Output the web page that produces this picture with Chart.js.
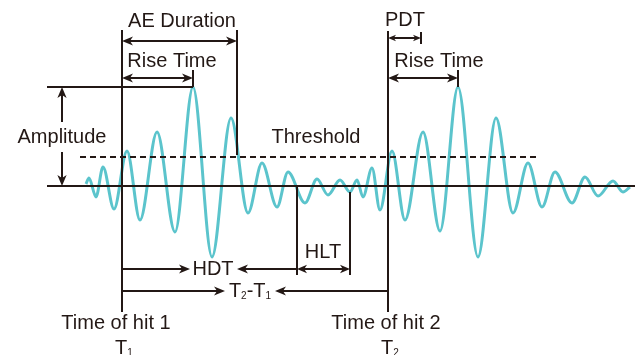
<!DOCTYPE html>
<html>
<head>
<meta charset="utf-8">
<script src="https://cdn.jsdelivr.net/npm/chart.js@4.4.1/dist/chart.umd.min.js"></script>
<style>
  html, body { margin: 0; padding: 0; background: #fff; }
  #wrap { width: 637px; height: 355px; position: relative; }
</style>
</head>
<body>
<div id="wrap"><canvas id="grafico"></canvas></div>
<script>
// Extremos da onda (tempo, amplitude)
const tempos = [86, 89, 96, 103, 114, 127, 140, 157, 175, 193, 212, 231, 248, 262, 277, 288, 305, 317, 328, 340,
  350, 357, 363, 372, 380, 392, 405, 423, 440, 458, 478, 496, 513, 528, 542, 555, 572, 585, 598, 613, 623, 630];
const amplitudes = [2, 8, -11, 19, -23, 35, -34, 54, -46, 99, -71, 68, -27, 23, -21, 14, -17, 7, -9, 6,
  -6, 6, -11, 18, -24, 35, -34, 54, -45, 99, -71, 68, -27, 23, -21, 14, -17, 9, -10, 5, -6, -1];

// Instantes marcados no eixo do tempo
const tHit1 = 122, tHit2 = 388;
const tPico1 = 193, tPico2 = 458;
const tFimDuracao = 237, tFimPDT = 421, tFimHDT = 297, tFimHLT = 350;

// Níveis de amplitude
const nivelBase = 0, nivelLimiar = 29, nivelPico = 99;

const COR = '#231815';
const COR_ONDA = '#5bc4cc';
const FONTE = '"Liberation Sans", Arial, sans-serif';

let chart = null;

function ponta(ctx, x1, y1, x2, y2, tam) {
  // ponta de seta em (x2, y2)
  const ang = Math.atan2(y2 - y1, x2 - x1);
  const dx = Math.cos(ang), dy = Math.sin(ang);
  const larg = tam * 0.42;
  ctx.beginPath();
  ctx.moveTo(x2, y2);
  ctx.lineTo(x2 - dx * tam - dy * larg, y2 - dy * tam + dx * larg);
  ctx.lineTo(x2 - dx * tam * 0.72, y2 - dy * tam * 0.72);
  ctx.lineTo(x2 - dx * tam + dy * larg, y2 - dy * tam - dx * larg);
  ctx.closePath();
  ctx.fill();
}

function textoComIndice(ctx, partes, xCentro, y) {
  // partes: [texto, indice?]
  let total = 0;
  partes.forEach(p => {
    ctx.font = (p[1] ? '10px ' : '20px ') + FONTE;
    total += ctx.measureText(p[0]).width;
  });
  let x = xCentro - total / 2;
  ctx.textAlign = 'left';
  ctx.textBaseline = 'alphabetic';
  partes.forEach(p => {
    ctx.font = (p[1] ? '10px ' : '20px ') + FONTE;
    ctx.fillText(p[0], x, p[1] ? y + 2 : y);
    x += ctx.measureText(p[0]).width;
  });
}

const anotacoes = {
  id: 'anotacoes',
  afterDatasetsDraw(chart) {
    const ctx = chart.ctx;
    const sx = chart.scales.x, sy = chart.scales.y;
    const px = v => sx.getPixelForValue(v);
    const py = v => sy.getPixelForValue(v);

    ctx.save();
    ctx.strokeStyle = COR;
    ctx.fillStyle = COR;
    ctx.lineWidth = 2;

    // linhas simples
    const linhas = [
      [47, nivelBase, 635, nivelBase],
      [47, nivelPico, tPico1, nivelPico],
      [tHit1, 156, tHit1, -126],
      [tHit2, 155, tHit2, -126],
      [tFimDuracao, 156, tFimDuracao, nivelLimiar + 2],
      [tPico1, 116, tPico1, nivelPico],
      [tPico2, 116, tPico2, nivelPico],
      [tFimPDT, 154, tFimPDT, 142],
      [tFimHDT, nivelBase, tFimHDT, -89],
      [tFimHLT, -6, tFimHLT, -89]
    ];
    linhas.forEach(l => {
      ctx.beginPath();
      ctx.moveTo(px(l[0]), py(l[1]));
      ctx.lineTo(px(l[2]), py(l[3]));
      ctx.stroke();
    });

    // limiar tracejado
    ctx.setLineDash([6, 4]);
    ctx.beginPath();
    ctx.moveTo(px(80), py(nivelLimiar));
    ctx.lineTo(px(537), py(nivelLimiar));
    ctx.stroke();
    ctx.setLineDash([]);

    // setas: x1, y1, x2, y2, ponta no inicio, ponta no fim, tamanho
    const setas = [
      [tHit1, 145, tFimDuracao, 145, true, true, 11],
      [tHit1, 108, tPico1, 108, true, true, 11],
      [tHit2, 148, tFimPDT, 148, true, true, 8],
      [tHit2, 108, tPico2, 108, true, true, 11],
      [62, 64, 62, nivelPico, false, true, 11],
      [62, 34, 62, nivelBase, false, true, 11],
      [tHit1, -83, 190, -83, false, true, 11],
      [tFimHDT, -83, 237, -83, false, true, 11],
      [tFimHDT, -83, tFimHLT, -83, true, true, 10],
      [tHit1, -105, 225, -105, false, true, 11],
      [tHit2, -105, 275, -105, false, true, 11]
    ];
    setas.forEach(s => {
      const x1 = px(s[0]), y1 = py(s[1]), x2 = px(s[2]), y2 = py(s[3]);
      const tam = s[6];
      const comp = Math.hypot(x2 - x1, y2 - y1);
      const ux = (x2 - x1) / comp, uy = (y2 - y1) / comp;
      const a = s[4] ? tam * 0.7 : 0;
      const b = s[5] ? tam * 0.7 : 0;
      ctx.beginPath();
      ctx.moveTo(x1 + ux * a, y1 + uy * a);
      ctx.lineTo(x2 - ux * b, y2 - uy * b);
      ctx.stroke();
      if (s[4]) ponta(ctx, x2, y2, x1, y1, tam);
      if (s[5]) ponta(ctx, x1, y1, x2, y2, tam);
    });

    // textos
    ctx.font = '20px ' + FONTE;
    ctx.textAlign = 'center';
    ctx.textBaseline = 'middle';
    const textos = [
      ['AE Duration', 182, 165],
      ['Rise Time', 172, 125],
      ['PDT', 405, 166],
      ['Rise Time', 439, 125],
      ['Amplitude', 62, 49],
      ['Threshold', 316, 49],
      ['HDT', 213, -83],
      ['HLT', 323, -66],
      ['Time of hit 1', 116, -137],
      ['Time of hit 2', 386, -137]
    ];
    textos.forEach(t => ctx.fillText(t[0], px(t[1]), py(t[2])));

    textoComIndice(ctx, [['T'], ['2', true], ['-'], ['T'], ['1', true]], px(250), py(-111));
    textoComIndice(ctx, [['T'], ['1', true]], px(124), py(-168));
    textoComIndice(ctx, [['T'], ['2', true]], px(390), py(-168));

    ctx.restore();
  }
};

function criarGrafico() {
  const ctx = document.getElementById('grafico').getContext('2d');
  if (chart !== null) chart.destroy();

  const onda = tempos.map((t, i) => ({ x: t, y: amplitudes[i] }));

  chart = new Chart(ctx, {
    type: 'scatter',
    data: {
      datasets: [{
        label: 'Onda',
        data: onda,
        showLine: true,
        borderColor: COR_ONDA,
        borderWidth: 3,
        pointRadius: 0,
        cubicInterpolationMode: 'monotone',
        fill: false
      }]
    },
    options: {
      responsive: true,
      maintainAspectRatio: false,
      animation: false,
      layout: { padding: 0 },
      scales: {
        x: { type: 'linear', min: 0, max: 637, display: false },
        y: { type: 'linear', min: -169, max: 186, display: false }
      },
      plugins: {
        legend: { display: false },
        tooltip: { enabled: false }
      }
    },
    plugins: [anotacoes]
  });
}

window.onload = function () {
  criarGrafico();
};
</script>
</body>
</html>
